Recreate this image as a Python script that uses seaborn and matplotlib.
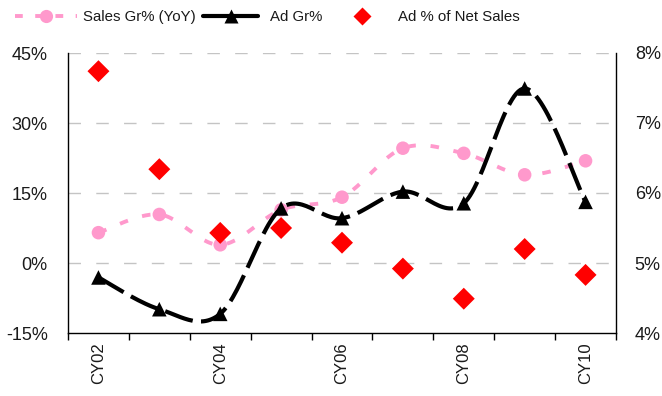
import numpy as np
import pandas as pd
import matplotlib
matplotlib.use("Agg")
import matplotlib.pyplot as plt
import seaborn as sns
from matplotlib import font_manager
from matplotlib.lines import Line2D
from matplotlib.ticker import FuncFormatter, FixedLocator

categories = ["CY02", "CY03", "CY04", "CY05", "CY06", "CY07", "CY08", "CY09", "CY10"]
sales_gr = [6.5, 10.4, 3.9, 11.4, 14.1, 24.6, 23.5, 18.9, 21.9]
ad_gr = [-3.1, -9.9, -10.9, 11.7, 9.6, 15.3, 12.8, 37.4, 13.1]
ad_pct_sales = [7.74, 6.34, 5.43, 5.50, 5.29, 4.92, 4.49, 5.20, 4.83]
shown_ticks = ["CY02", "CY04", "CY06", "CY08", "CY10"]
series_labels = ["Sales Gr% (YoY)", "Ad Gr%", "Ad % of Net Sales"]

sns.set_theme(style="white")
installed = {f.name for f in font_manager.fontManager.ttflist}
narrow = "Liberation Sans Narrow" in installed
if narrow:
    fam = ["Liberation Sans Narrow", "DejaVu Sans"]
    ytick_fs, xtick_fs, leg_fs = 13, 14, 12.7
else:
    fam = ["Liberation Sans", "DejaVu Sans"]
    ytick_fs, xtick_fs, leg_fs = 13, 12, 10.8
plt.rcParams["font.family"] = fam
TXT = "#1a1a1a"

def smooth(xs, ys, n=30):
    # Bezier smoothing (spreadsheet-style "smoothed line") through the points
    p = np.column_stack([xs, ys]).astype(float)
    out = []
    m = len(p)
    for i in range(m - 1):
        p0 = p[i - 1] if i > 0 else p[i]
        p1, p2 = p[i], p[i + 1]
        p3 = p[i + 2] if i + 2 < m else p[i + 1]
        c1 = p1 + (p2 - p0) / 6.0
        c2 = p2 - (p3 - p1) / 6.0
        t = np.linspace(0, 1, n)[:, None]
        seg = ((1 - t) ** 3) * p1 + 3 * ((1 - t) ** 2) * t * c1 + 3 * (1 - t) * t ** 2 * c2 + t ** 3 * p2
        out.append(seg if i == 0 else seg[1:])
    s = np.vstack(out)
    return s[:, 0], s[:, 1]

x = np.arange(len(categories))
df = pd.DataFrame({"x": x, "cat": categories, "sales": sales_gr, "ad": ad_gr, "pct": ad_pct_sales})

fig = plt.figure(figsize=(6.62, 3.96), dpi=100)
ax = fig.add_axes([68 / 662, 1 - 333 / 396, 548 / 662, 280 / 396])
ax2 = ax.twinx()

pink = "#FF99CC"
red = "#FF0000"

ax.set_ylim(-15, 45)
ax.set_xlim(-0.5, len(categories) - 0.5)
for g in [0, 15, 30, 45]:
    ax.axhline(g, color="#c4c4c4", lw=1.0, ls=(0, (9, 11)), zorder=0)

sx, sy = smooth(x, sales_gr)
sns.lineplot(x=sx, y=sy, ax=ax, color=pink, lw=2.8, sort=False, zorder=3)
ax.lines[-1].set_dashes([2.2, 3.8])
ax.lines[-1].set_solid_capstyle("butt")
sns.scatterplot(data=df, x="x", y="sales", ax=ax, color=pink, marker="o", s=95, edgecolor="none", zorder=4)

axx, axy = smooth(x, ad_gr)
sns.lineplot(x=axx, y=axy, ax=ax, color="black", lw=3, sort=False, zorder=5)
ax.lines[-1].set_dashes([7, 2])
sns.scatterplot(data=df, x="x", y="ad", ax=ax, color="black", marker="^", s=110, edgecolor="none", zorder=6)

ax2.set_ylim(4, 8)
sns.scatterplot(data=df, x="x", y="pct", ax=ax2, color=red, marker="D", s=125, edgecolor="none", zorder=7)

ax.set_xlabel("")
ax.set_ylabel("")
ax2.set_xlabel("")
ax2.set_ylabel("")
ax.set_yticks([-15, 0, 15, 30, 45])
ax.yaxis.set_major_formatter(FuncFormatter(lambda v, p: f"{v:.0f}%"))
ax2.set_yticks([4, 5, 6, 7, 8])
ax2.yaxis.set_major_formatter(FuncFormatter(lambda v, p: f"{v:.0f}%"))

ax.xaxis.set_major_locator(FixedLocator([i for i, c in enumerate(categories) if c in shown_ticks]))
ax.set_xticklabels(shown_ticks, rotation=90)
ax.xaxis.set_minor_locator(FixedLocator(np.arange(-0.5, len(categories), 1.0)))
ax.tick_params(axis="x", which="major", length=0, pad=7, labelsize=xtick_fs, labelcolor=TXT)
ax.tick_params(axis="x", which="minor", length=5, width=1, color="black", direction="out", bottom=True)
ax.tick_params(axis="y", length=0, pad=14.5, labelsize=ytick_fs, labelcolor=TXT)
ax2.tick_params(axis="y", length=0, pad=13.5, labelsize=ytick_fs, labelcolor=TXT)

for a in (ax, ax2):
    a.spines["top"].set_visible(False)
    for s in ("left", "right", "bottom"):
        a.spines[s].set_color("black")
        a.spines[s].set_linewidth(1.0)
ax.spines["right"].set_visible(False)
ax2.spines["left"].set_visible(False)
ax2.spines["bottom"].set_visible(False)

# legend: three entries placed across the top
fpx = leg_fs * 100 / 72.0
ly = 1 - 17 / 396
h1 = Line2D([], [], color=pink, lw=2.8, dashes=[2.0, 3.2], marker="o", markersize=9.5,
            markeredgecolor="none", solid_capstyle="butt", dash_capstyle="butt")
h2 = Line2D([], [], color="black", lw=3, marker="^", markersize=10, markeredgecolor="none")
h3 = Line2D([], [], color="none", marker="D", markersize=9.5, markerfacecolor=red, markeredgecolor="none")
specs = [(h1, series_labels[0], 15, 62, 6), (h2, series_labels[1], 203, 55, 12), (h3, series_labels[2], 340, 44, 14)]
for h, lab, x0, hl, pad in specs:
    fig.legend([h], [lab], loc="center left", bbox_to_anchor=(x0 / 662, ly), frameon=False,
               fontsize=leg_fs, handlelength=hl / fpx, handletextpad=pad / fpx, borderpad=0,
               borderaxespad=0, labelcolor=TXT)

fig.savefig("out.png", dpi=100)
